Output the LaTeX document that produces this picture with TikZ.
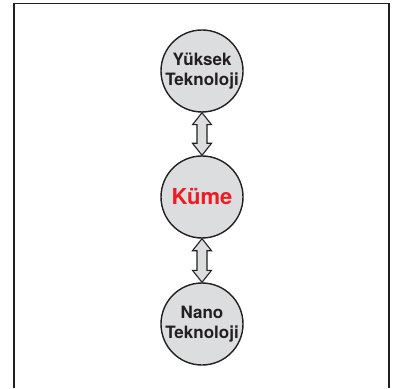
\documentclass[tikz,border=0pt]{standalone}
\usepackage{fontspec}
\setmainfont{TeX Gyre Heros}
\usetikzlibrary{calc}

\definecolor{ink}{HTML}{231F20}
\definecolor{disc}{HTML}{DCDDDE}
\definecolor{kred}{HTML}{ED1C24}

\tikzset{
  topic/.style={circle, draw=ink, line width=1.4pt, fill=disc, minimum size=82pt,
    inner sep=0pt, align=center, text=ink, font=\bfseries\fontsize{17}{20}\selectfont},
  hub/.style={topic, text=kred, font=\bfseries\fontsize{22}{24}\selectfont},
  twoway/.style={draw=ink, line width=1.1pt, fill=disc, line join=miter}
}

\begin{document}
\begin{tikzpicture}[x=1pt, y=1pt]

          \useasboundingbox (0,0) rectangle (395,388);
          \draw[ink, line width=1.4pt] (14,0) -- (14,384.5) -- (389,384.5) -- (389,0);

          \node[topic] (yuksek) at (202,317) {Y\"uksek\\Teknoloji};
          \node[hub] (kume) at (202,191) {K\"ume};
          \node[topic] (nano) at (202,64) {Nano\\Teknoloji};

          \foreach \a/\b in {yuksek/kume, kume/nano}{
            \draw[twoway] (\a.south) -- ++(9.5,-12) -- ++(-4.5,0)
              -- ($(\b.north)+(5,12)$) -- ++(4.5,0) -- (\b.north)
              -- ++(-9.5,12) -- ++(4.5,0)
              -- ($(\a.south)+(-5,-12)$) -- ++(-4.5,0) -- cycle;
          }

        \end{tikzpicture}
\end{document}
